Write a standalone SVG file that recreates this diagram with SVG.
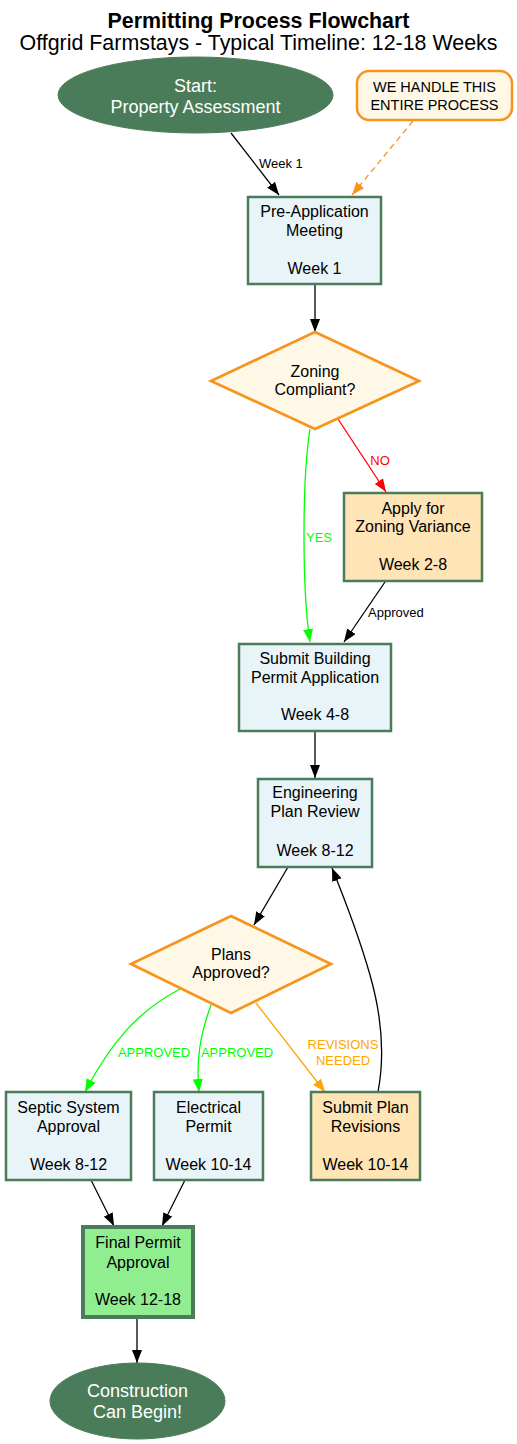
<svg xmlns="http://www.w3.org/2000/svg" width="517" height="1444" viewBox="0 0 517 1444">
<style>
text{font-family:"Liberation Sans",Arial,sans-serif;text-anchor:middle;fill:#000}
.t{font-size:21.4px}
.n{font-size:16px}
.e{font-size:18px;fill:#fff}
.l{font-size:13px}
.c{font-size:14.5px}
.box{fill:#e8f4f8;stroke:#4a7c59;stroke-width:2.5}
.alt{fill:#ffe4b5;stroke:#4a7c59;stroke-width:2.5}
.dia{fill:#fff8e7;stroke:#f7941d;stroke-width:2.7}
.ell{fill:#4a7c59;stroke:#4a7c59}
.ed{fill:none;stroke:#000;stroke-width:1.3}
</style>
<defs>
<marker id="ab" viewBox="0 0 13 10" refX="13" refY="5" markerWidth="13" markerHeight="10" markerUnits="userSpaceOnUse" orient="auto"><path d="M0,0 L13,5 L0,10 z" fill="#000"/></marker>
<marker id="ao" viewBox="0 0 13 10" refX="13" refY="5" markerWidth="13" markerHeight="10" markerUnits="userSpaceOnUse" orient="auto"><path d="M0,0 L13,5 L0,10 z" fill="#f7941d"/></marker>
<marker id="ag" viewBox="0 0 13 10" refX="13" refY="5" markerWidth="13" markerHeight="10" markerUnits="userSpaceOnUse" orient="auto"><path d="M0,0 L13,5 L0,10 z" fill="#00ff00"/></marker>
<marker id="ar" viewBox="0 0 13 10" refX="13" refY="5" markerWidth="13" markerHeight="10" markerUnits="userSpaceOnUse" orient="auto"><path d="M0,0 L13,5 L0,10 z" fill="#ff0000"/></marker>
<marker id="ay" viewBox="0 0 13 10" refX="13" refY="5" markerWidth="13" markerHeight="10" markerUnits="userSpaceOnUse" orient="auto"><path d="M0,0 L13,5 L0,10 z" fill="#ffa500"/></marker>
</defs>
<rect width="517" height="1444" fill="#fff"/>
<g id="title">
<text class="t" x="258.5" y="28" font-weight="bold">Permitting Process Flowchart</text>
<text class="t" x="258.5" y="50">Offgrid Farmstays - Typical Timeline: 12-18 Weeks</text>
</g>
<g id="connectors">
<path class="ed" d="M231,133 L279,195" marker-end="url(#ab)"/>
<text class="l" x="259" y="168" style="text-anchor:start">Week 1</text>
<path class="ed" d="M413,121 L352,195" stroke="#f7941d" style="stroke:#f7941d" stroke-dasharray="6,4" marker-end="url(#ao)"/>
<path class="ed" d="M315,284 L315,332" marker-end="url(#ab)"/>
<path class="ed" style="stroke:#00ff00" d="M310,429 C302,480 302,590 310,642" marker-end="url(#ag)"/>
<text class="l" x="319" y="542" style="fill:#00ff00">YES</text>
<path class="ed" style="stroke:#ff0000" d="M338,419 L386,492" marker-end="url(#ar)"/>
<text class="l" x="380" y="465" style="fill:#ff0000">NO</text>
<path class="ed" d="M385,582 L344,642" marker-end="url(#ab)"/>
<text class="l" x="368" y="617" style="text-anchor:start">Approved</text>
<path class="ed" d="M315,731 L315,778" marker-end="url(#ab)"/>
<path class="ed" d="M288,867 L254,925" marker-end="url(#ab)"/>
<path class="ed" style="stroke:#00ff00" d="M180,989 C140,1010 112,1040 85,1092" marker-end="url(#ag)"/>
<text class="l" x="154" y="1057" style="fill:#00ff00">APPROVED</text>
<path class="ed" style="stroke:#00ff00" d="M211,1005 C200,1035 196,1060 199,1092" marker-end="url(#ag)"/>
<text class="l" x="237" y="1057" style="fill:#00ff00">APPROVED</text>
<path class="ed" style="stroke:#ffa500" d="M256,1003 L325,1092" marker-end="url(#ay)"/>
<text class="l" x="343" y="1049" style="fill:#ffa500">REVISIONS</text>
<text class="l" x="343" y="1065" style="fill:#ffa500">NEEDED</text>
<path class="ed" d="M378,1092 C386,1050 380,1010 370,975 C360,940 345,900 332,868" marker-end="url(#ab)"/>
<path class="ed" d="M91,1180 L114,1226" marker-end="url(#ab)"/>
<path class="ed" d="M185,1180 L162,1226" marker-end="url(#ab)"/>
<path class="ed" d="M137,1317 L137,1363" marker-end="url(#ab)"/>
</g>
<g id="start">
<ellipse class="ell" cx="195.5" cy="95" rx="137.5" ry="38"/>
<text class="e" x="195.5" y="92">Start:</text>
<text class="e" x="195.5" y="113">Property Assessment</text>
</g>
<g id="callout">
<rect x="357" y="71" width="155" height="49" rx="12" fill="#fff8e7" stroke="#f7941d" stroke-width="2.5"/>
<text class="c" x="434.5" y="92">WE HANDLE THIS</text>
<text class="c" x="434.5" y="110">ENTIRE PROCESS</text>
</g>
<g id="preapp">
<rect class="box" x="248" y="197" width="133" height="87"/>
<text class="n" x="314.5" y="217">Pre-Application</text>
<text class="n" x="314.5" y="236">Meeting</text>
<text class="n" x="314.5" y="274">Week 1</text>
</g>
<g id="zoning">
<polygon class="dia" points="315,332 419,381 315,429 211,381"/>
<text class="n" x="315" y="377">Zoning</text>
<text class="n" x="315" y="395">Compliant?</text>
</g>
<g id="variance">
<rect class="alt" x="344" y="493" width="138" height="88"/>
<text class="n" x="413" y="514">Apply for</text>
<text class="n" x="413" y="532">Zoning Variance</text>
<text class="n" x="413" y="570">Week 2-8</text>
</g>
<g id="building">
<rect class="box" x="239" y="644" width="152" height="87"/>
<text class="n" x="315" y="664">Submit Building</text>
<text class="n" x="315" y="683">Permit Application</text>
<text class="n" x="315" y="720">Week 4-8</text>
</g>
<g id="engineering">
<rect class="box" x="258" y="779" width="114" height="88"/>
<text class="n" x="315" y="798">Engineering</text>
<text class="n" x="315" y="817">Plan Review</text>
<text class="n" x="315" y="856">Week 8-12</text>
</g>
<g id="plans">
<polygon class="dia" points="231,916 331,964 231,1013 131,964"/>
<text class="n" x="231" y="960">Plans</text>
<text class="n" x="231" y="978">Approved?</text>
</g>
<g id="septic">
<rect class="box" x="6" y="1092" width="125" height="88"/>
<text class="n" x="68.5" y="1113">Septic System</text>
<text class="n" x="68.5" y="1132">Approval</text>
<text class="n" x="68.5" y="1170">Week 8-12</text>
</g>
<g id="electrical">
<rect class="box" x="154" y="1092" width="109" height="88"/>
<text class="n" x="208.5" y="1113">Electrical</text>
<text class="n" x="208.5" y="1132">Permit</text>
<text class="n" x="208.5" y="1170">Week 10-14</text>
</g>
<g id="revisions">
<rect class="alt" x="311" y="1092" width="109" height="88"/>
<text class="n" x="365.5" y="1113">Submit Plan</text>
<text class="n" x="365.5" y="1132">Revisions</text>
<text class="n" x="365.5" y="1170">Week 10-14</text>
</g>
<g id="final">
<rect x="83" y="1227" width="110" height="90" fill="#90ee90" stroke="#4a7c59" stroke-width="4"/>
<text class="n" x="138" y="1248">Final Permit</text>
<text class="n" x="138" y="1268">Approval</text>
<text class="n" x="138" y="1305">Week 12-18</text>
</g>
<g id="end">
<ellipse class="ell" cx="137.5" cy="1401" rx="87.5" ry="38"/>
<text class="e" x="137.5" y="1397">Construction</text>
<text class="e" x="137.5" y="1418">Can Begin!</text>
</g>
</svg>
